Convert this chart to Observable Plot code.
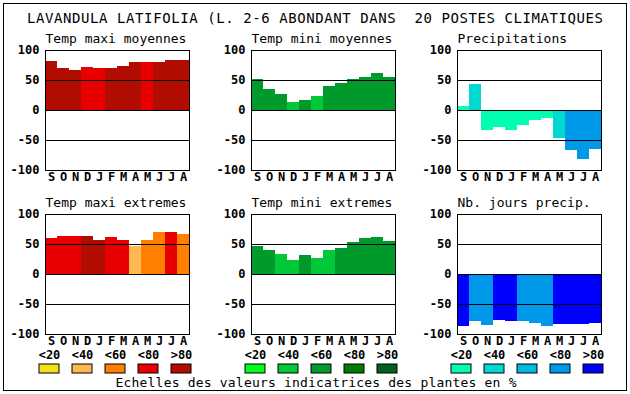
<!DOCTYPE html>
<html><head><meta charset="utf-8">
<script src="https://cdn.jsdelivr.net/npm/d3@7"></script>
<script src="https://cdn.jsdelivr.net/npm/@observablehq/plot@0.6"></script>
<style>
body{margin:0;background:#fff}
#wrap{position:relative;width:630px;height:394px;overflow:hidden;background:#fff;color:#000}
#border{position:absolute;left:3px;top:3px;width:624px;height:388px;box-sizing:border-box;border:1px solid #000}
.abs{position:absolute}
#texts{position:absolute;left:0;top:0}
#texts text{font-family:"DejaVu Sans Mono",monospace;white-space:pre;fill:#000}
</style>
</head><body>
<div id="wrap">
  <div id="border"></div>
  <svg id="texts" width="630" height="394">
    <text id="title" x="315" y="23" text-anchor="middle" font-size="14" textLength="576" lengthAdjust="spacing"></text>
    <text id="caption" x="316" y="387" text-anchor="middle" font-size="13" textLength="401" lengthAdjust="spacing"></text>
  </svg>
</div>
<script>
const chartTitle = "LAVANDULA LATIFOLIA (L. 2-6 ABONDANT DANS  20 POSTES CLIMATIQUES";
const captionText = "Echelles des valeurs indicatrices des plantes en %";
const months = ["S","O","N","D","J","F","M","A","M","J","J","A"];
const yTicks = [100, 50, 0, -50, -100];
const gridValues = [50, 0, -50];
const classLabels = ["<20", "<40", "<60", "<80", ">80"];
const classCodes = [1, 2, 3, 4, 5];
const reds = ["#f5e11a", "#ffb850", "#ff8000", "#e80000", "#b00c00"];
const greens = ["#00ff1a", "#00c838", "#009a2a", "#007a00", "#00601e"];
const blues = ["#00ffb0", "#00d8d0", "#00b8e0", "#0098e8", "#0000ff"];

const panelTitles = ["Temp maxi moyennes", "Temp mini moyennes", "Precipitations",
                     "Temp maxi extremes", "Temp mini extremes", "Nb. jours precip."];

const tMaxMoy      = [82, 70, 67, 72, 70, 70, 73, 80, 80, 80, 83, 83];
const tMaxMoyCls   = [5, 5, 5, 4, 4, 5, 5, 5, 4, 5, 5, 5];
const tMinMoy      = [52, 35, 27, 13, 17, 23, 40, 45, 52, 55, 62, 55];
const tMinMoyCls   = [3, 3, 3, 2, 3, 2, 3, 3, 3, 3, 3, 3];
const precip       = [7, 43, -33, -28, -33, -25, -17, -13, -47, -67, -82, -65];
const precipCls    = [1, 2, 1, 1, 1, 1, 1, 1, 2, 4, 4, 4];
const tMaxExt      = [60, 63, 63, 63, 57, 62, 57, 47, 57, 70, 70, 67];
const tMaxExtCls   = [4, 4, 4, 5, 5, 4, 4, 2, 3, 3, 4, 3];
const tMinExt      = [47, 40, 33, 23, 32, 27, 40, 43, 53, 60, 62, 55];
const tMinExtCls   = [3, 3, 2, 2, 3, 2, 2, 3, 3, 3, 3, 3];
const nbJours      = [-87, -78, -85, -77, -78, -78, -82, -87, -83, -83, -83, -82];
const nbJoursCls   = [5, 4, 4, 5, 5, 4, 4, 4, 5, 5, 5, 5];

document.getElementById("title").textContent = chartTitle;
document.getElementById("caption").textContent = captionText;

const wrap = document.getElementById("wrap");
const baseStyle = {fontFamily: "DejaVu Sans Mono, monospace", fontSize: "12px", fontWeight: "bold", background: "transparent", overflow: "visible", color: "#000"};

function place(node, left, top) {
  node.classList.add("abs");
  node.style.left = left + "px";
  node.style.top = top + "px";
  wrap.appendChild(node);
}

function panel(title, values, cls, palette, left, top) {
  const data = values.map((v, i) => ({i, v, c: cls[i]}));
  const svg = Plot.plot({
    width: 194, height: 155,
    marginLeft: 45, marginRight: 5, marginTop: 20, marginBottom: 15,
    x: {type: "band", domain: d3.range(months.length), padding: 0, round: false,
        tickSize: 0, tickPadding: 2, tickFormat: i => months[i], label: null},
    y: {domain: [-100, 100], ticks: yTicks, tickSize: 0, tickPadding: 6,
        tickFormat: d => String(d), label: null},
    color: {type: "ordinal", domain: classCodes, range: palette},
    style: baseStyle,
    marks: [
      Plot.barY(data, {x: "i", y: "v", fill: "c", shapeRendering: "crispEdges"}),
      Plot.ruleY(gridValues, {stroke: "#000"}),
      Plot.frame({stroke: "#000"}),
      Plot.text([title], {text: d => d, frameAnchor: "top-left", textAnchor: "start",
        lineAnchor: "bottom", dy: -8, fontSize: 13, fontWeight: "normal"})
    ]
  });
  place(svg, left, top);
}

function legend(palette, left, top) {
  const svg = Plot.plot({
    width: 160, height: 30,
    marginLeft: 3, marginRight: 5, marginTop: 19, marginBottom: 2,
    x: {type: "band", domain: classLabels, paddingInner: 0.394, paddingOuter: 0, round: false, axis: null},
    color: {type: "ordinal", domain: classLabels, range: palette},
    style: baseStyle,
    marks: [
      Plot.cell(classLabels, {x: d => d, fill: d => d, stroke: "#000", inset: 0}),
      Plot.text(classLabels, {x: d => d, text: d => d, frameAnchor: "top", lineAnchor: "bottom", dy: -6})
    ]
  });
  place(svg, left, top);
}

const cols = [0, 206, 412];
const rows = [30, 194];
panel(panelTitles[0], tMaxMoy, tMaxMoyCls, reds,   cols[0], rows[0]);
panel(panelTitles[1], tMinMoy, tMinMoyCls, greens, cols[1], rows[0]);
panel(panelTitles[2], precip,  precipCls,  blues,  cols[2], rows[0]);
panel(panelTitles[3], tMaxExt, tMaxExtCls, reds,   cols[0], rows[1]);
panel(panelTitles[4], tMinExt, tMinExtCls, greens, cols[1], rows[1]);
panel(panelTitles[5], nbJours, nbJoursCls, blues,  cols[2], rows[1]);

legend(reds,   cols[0] + 36, 345);
legend(greens, cols[1] + 36, 345);
legend(blues,  cols[2] + 36, 345);
</script>
</body></html>
